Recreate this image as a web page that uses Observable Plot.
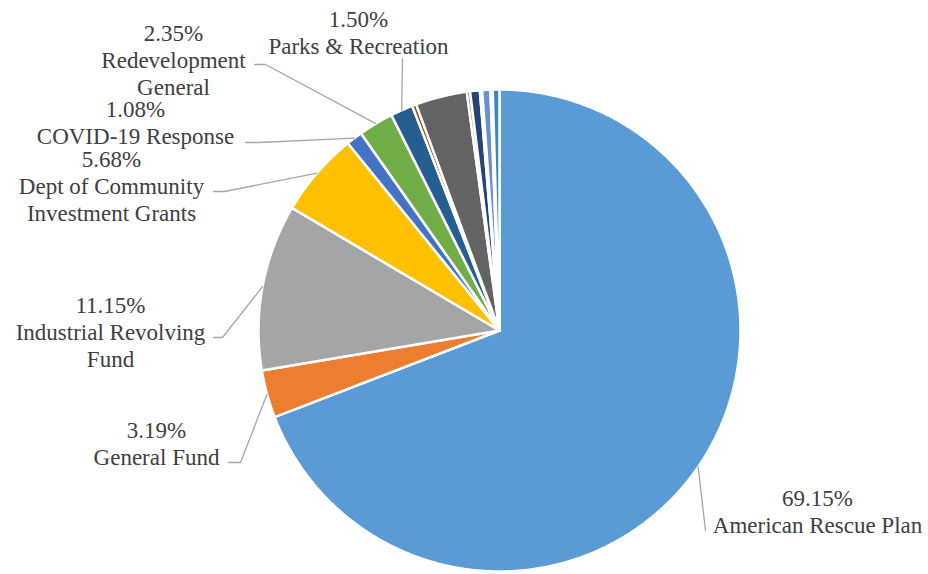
<!DOCTYPE html>
<html>
<head>
<meta charset="utf-8">
<script src="https://cdn.jsdelivr.net/npm/d3@7"></script>
<script src="https://cdn.jsdelivr.net/npm/@observablehq/plot@0.6"></script>
<style>
  html, body { margin: 0; padding: 0; background: #ffffff; }
  #chart { width: 928px; height: 574px; }
  #chart svg text { font-family: "Liberation Serif", Tinos, "Times New Roman", "DejaVu Serif", serif !important; }
</style>
</head>
<body>
<div id="chart"></div>
<script>
// ---- data ----
const categories = [
  "American Rescue Plan", "General Fund", "Industrial Revolving Fund",
  "Dept of Community Investment Grants", "COVID-19 Response", "Redevelopment General",
  "Parks & Recreation", "Fund 8", "Fund 9", "Fund 10", "Fund 11", "Fund 12",
  "Fund 13", "Fund 14", "Fund 15"
];
const shares = [69.15, 3.19, 11.15, 5.68, 1.08, 2.35, 1.50, 0.28, 3.45, 0.22, 0.65, 0.15, 0.55, 0.15, 0.45];
const labelLines = [
  "American Rescue Plan", "General Fund", "Industrial Revolving\nFund",
  "Dept of Community\nInvestment Grants", "COVID-19 Response", "Redevelopment\nGeneral",
  "Parks & Recreation", null, null, null, null, null, null, null, null
];

// ---- styles / layout ----
const palette = ["#5B9BD5", "#ED7D31", "#A5A5A5", "#FFC000", "#4472C4", "#70AD47", "#255E91",
  "#9E480E", "#636363", "#997300", "#264478", "#43682B", "#6B8FD2", "#F1975A", "#3A86CC"];
const W = 928, H = 574;
const pieGeom = {cx: 499, cy: 330, r: 241};
const labelLayout = {
  "American Rescue Plan": {x: 817, y: 510, elbow: [[705, 530]]},
  "General Fund": {x: 156, y: 442, elbow: [[228, 462], [240, 462]]},
  "Industrial Revolving Fund": {x: 110, y: 331, elbow: [[213, 337], [222, 337]]},
  "Dept of Community Investment Grants": {x: 111, y: 185, elbow: [[213, 191], [224, 191]]},
  "COVID-19 Response": {x: 135, y: 121, elbow: [[245, 142], [258, 142]]},
  "Redevelopment General": {x: 173, y: 59, elbow: [[254, 64], [265, 64]]},
  "Parks & Recreation": {x: 358, y: 31, elbow: [[402, 58]]}
};

// ---- derived geometry ----
const table = categories.map((c, i) => ({category: c, share: shares[i], lines: labelLines[i]}));
const arcs = d3.pie().sort(null).value(d => d.share)(table);
const pt = (a, r) => [pieGeom.cx + r * Math.sin(a), pieGeom.cy - r * Math.cos(a)];

const slicePts = [];
for (const a of arcs) {
  const c = a.data.category;
  slicePts.push({category: c, x: pieGeom.cx, y: pieGeom.cy});
  const n = Math.max(2, Math.ceil((a.endAngle - a.startAngle) / (Math.PI / 360)));
  for (let k = 0; k <= n; k++) {
    const ang = a.startAngle + (a.endAngle - a.startAngle) * k / n;
    const [x, y] = pt(ang, pieGeom.r);
    slicePts.push({category: c, x, y});
  }
}

const leaderPts = [];
const labels = [];
for (const a of arcs) {
  const c = a.data.category;
  const L = labelLayout[c];
  if (!L) continue;
  for (const [x, y] of L.elbow) leaderPts.push({category: c, x, y});
  const [ex, ey] = pt((a.startAngle + a.endAngle) / 2, pieGeom.r);
  leaderPts.push({category: c, x: ex, y: ey});
  labels.push({x: L.x, y: L.y, text: d3.format(".2f")(a.data.share) + "%\n" + a.data.lines});
}

const chart = Plot.plot({
  width: W,
  height: H,
  margin: 0,
  x: {domain: [0, W], range: [0, W], axis: null},
  y: {domain: [0, H], range: [0, H], axis: null},
  color: {domain: categories, range: palette},
  style: {background: "#ffffff"},
  marks: [
    Plot.line(slicePts, {x: "x", y: "y", z: "category", fill: "category", stroke: "#ffffff",
      strokeWidth: 2.5, strokeLinejoin: "round", curve: "linear-closed"}),
    Plot.line(leaderPts, {x: "x", y: "y", z: "category", stroke: "#A6A6A6", strokeWidth: 1.3}),
    Plot.text(labels, {x: "x", y: "y", text: "text", textAnchor: "middle", lineAnchor: "middle",
      lineHeight: 1.17, fontSize: 23, fill: "#404040"})
  ]
});
document.getElementById("chart").appendChild(chart);
</script>
</body>
</html>
